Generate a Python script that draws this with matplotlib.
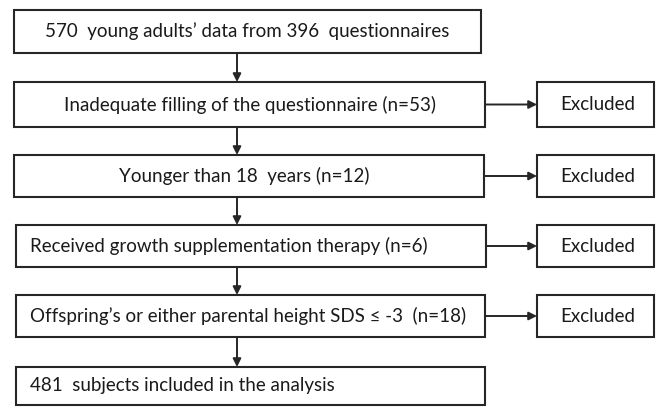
import matplotlib.pyplot as plt
from matplotlib.patches import Rectangle

plt.rcParams['font.family'] = ['Lato', 'DejaVu Sans']

# flow steps, top to bottom
steps = [
    "570  young adults\u2019 data from 396  questionnaires",
    "Inadequate filling of the questionnaire (n=53)",
    "Younger than 18  years (n=12)",
    "Received growth supplementation therapy (n=6)",
    "Offspring\u2019s or either parental height SDS \u2264 -3  (n=18)",
    "481  subjects included in the analysis",
]
side_label = "Excluded"
has_exclusion = [False, True, True, True, True, False]

# layout (pixels, y down)
box_top = [10, 82, 155, 225, 295, 367]
box_bot = [53, 127, 197, 267, 337, 405]
box_left = [14, 14, 14, 16, 16, 16]
box_right = [481, 485, 484, 486, 485, 485]
text_x = [247, 250, 244, 30, 30, 30]
text_ha = ['center', 'center', 'center', 'left', 'left', 'left']
ex_left, ex_right = 537, 654
arrow_x = 237
ec = '#262626'
fs = 13.5

fig = plt.figure(figsize=(6.57, 4.09), dpi=100)
ax = fig.add_axes([0, 0, 1, 1])
ax.set_xlim(0, 657)
ax.set_ylim(409, 0)
ax.axis('off')

for i, label in enumerate(steps):
    t, b = box_top[i], box_bot[i]
    ax.add_patch(Rectangle((box_left[i], t), box_right[i] - box_left[i], b - t,
                           fill=False, ec=ec, lw=1.5))
    ax.text(text_x[i], (t + b) / 2, label, ha=text_ha[i], va='center',
            fontsize=fs, color='#1a1a1a')
    if has_exclusion[i]:
        ax.add_patch(Rectangle((ex_left, t), ex_right - ex_left, b - t,
                               fill=False, ec=ec, lw=1.5))
        ax.text((ex_left + ex_right) / 2 + 2, (t + b) / 2, side_label, ha='center',
                va='center', fontsize=fs, color='#1a1a1a')
        ax.annotate('', xy=(ex_left, (t + b) / 2), xytext=(box_right[i], (t + b) / 2),
                    arrowprops=dict(arrowstyle='-|>', color=ec, lw=1.4,
                                    shrinkA=0, shrinkB=0, mutation_scale=12))
    if i < len(steps) - 1:
        ax.annotate('', xy=(arrow_x, box_top[i + 1]), xytext=(arrow_x, b),
                    arrowprops=dict(arrowstyle='-|>', color=ec, lw=1.4,
                                    shrinkA=0, shrinkB=0, mutation_scale=12))

fig.savefig('out.png', dpi=100, facecolor='white')
